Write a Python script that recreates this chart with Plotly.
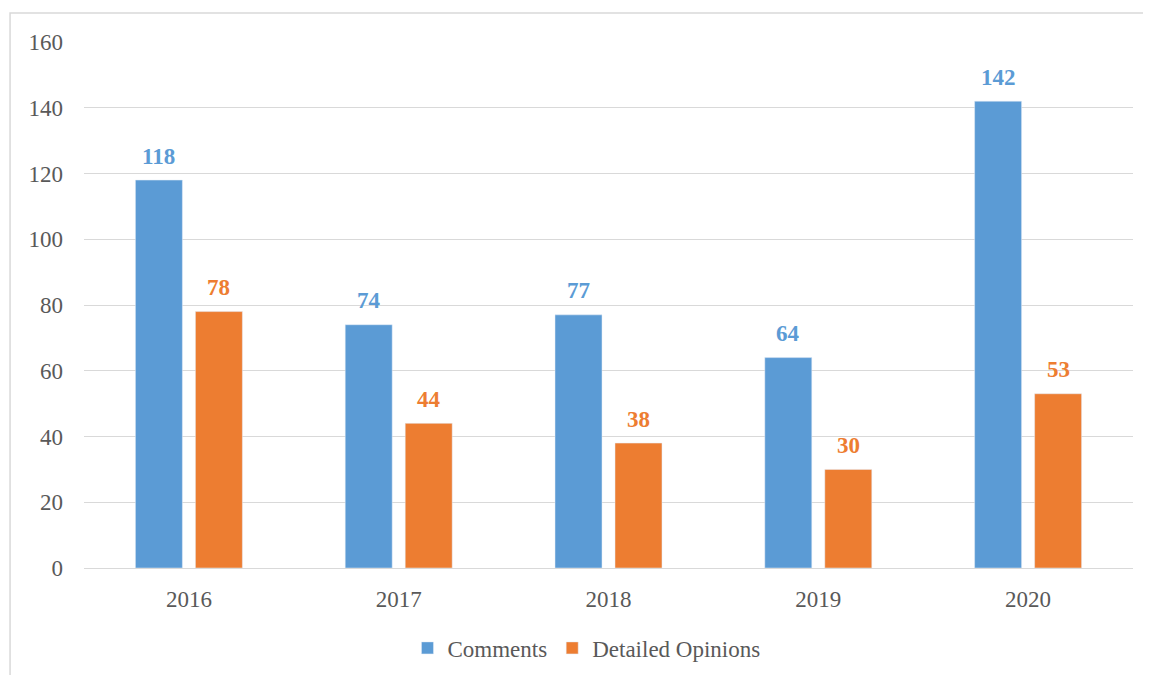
import plotly.graph_objects as go

years = ["2016", "2017", "2018", "2019", "2020"]
comments = [118, 74, 77, 64, 142]
detailed_opinions = [78, 44, 38, 30, 53]
y_ticks = [0, 20, 40, 60, 80, 100, 120, 140, 160]

blue = "#5B9BD5"
orange = "#ED7D31"
font_family = "Liberation Serif, Times New Roman, serif"

fig = go.Figure()
fig.add_trace(go.Bar(x=years, y=comments, name="Comments", marker_color=blue))
fig.add_trace(go.Bar(x=years, y=detailed_opinions, name="Detailed Opinions", marker_color=orange))

# data labels above each bar (x given as category index)
for values, color, shift in [(comments, blue, -30), (detailed_opinions, orange, 30)]:
    for i, v in enumerate(values):
        fig.add_annotation(
            x=i, y=v, xref="x", yref="y", text=str(v), showarrow=False,
            xshift=shift, yshift=24, yanchor="middle",
            font=dict(family=font_family, size=23, color=color, weight="bold"),
        )

fig.update_layout(
    width=1151, height=675,
    margin=dict(l=76, r=26, t=34, b=115),
    paper_bgcolor="white", plot_bgcolor="white",
    font=dict(family=font_family, size=23, color="#595959"),
    barmode="group", bargap=0.428, bargroupgap=0.217,
    showlegend=True,
    legend=dict(orientation="h", x=0.479, xanchor="center", y=-0.152, yanchor="middle",
                font=dict(size=23, color="#595959"), itemwidth=30, traceorder="normal"),
    yaxis=dict(range=[0, 160], tickvals=y_ticks, showgrid=True, gridcolor="#D9D9D9",
               gridwidth=1, zeroline=False, showline=False, ticks="",
               ticklabelstandoff=20, tickfont=dict(size=23, color="#595959")),
    xaxis=dict(type="category", range=[-0.5, len(years) - 0.5], showline=True,
               linecolor="#D9D9D9", linewidth=1, ticks="",
               ticklabelstandoff=10, tickfont=dict(size=23, color="#595959")),
)

fig.add_shape(type="rect", xref="paper", yref="paper",
              x0=-0.0705, x1=1.06, y0=-0.25, y1=1.0551,
              line=dict(color="#D9D9D9", width=1.5), fillcolor="rgba(0,0,0,0)", layer="below")

fig.write_html("out.html")
